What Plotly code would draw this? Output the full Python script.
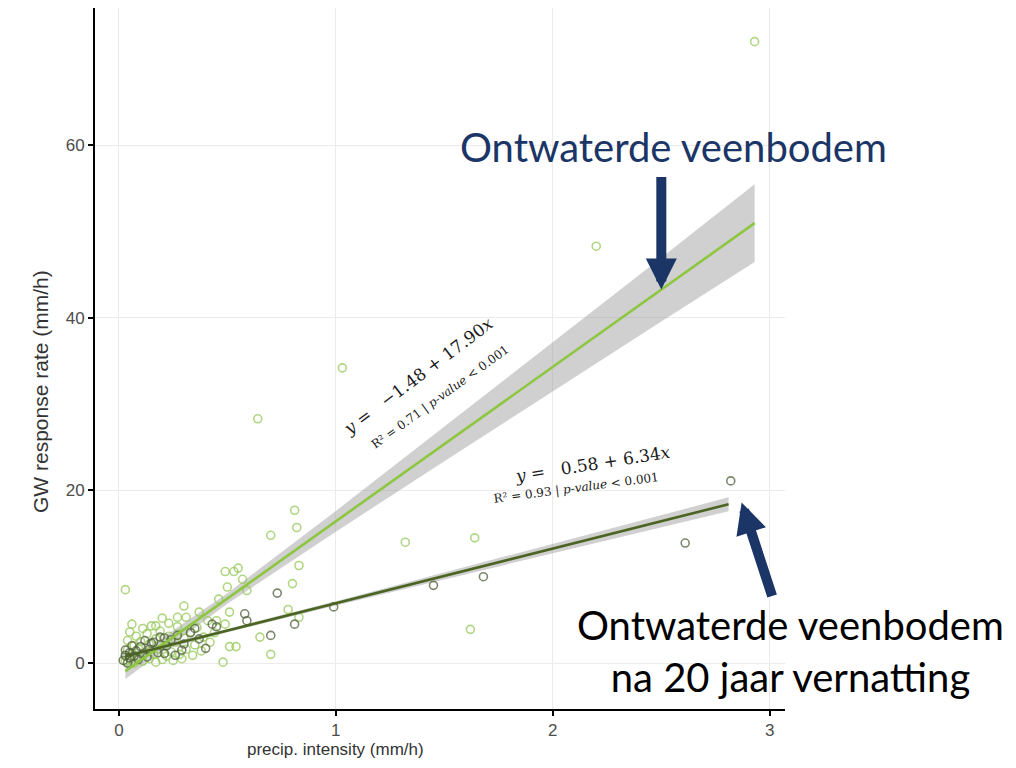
import plotly.graph_objects as go

# ---- observations: drained peat soil (light green) ----
drained_x = [2.93, 2.20, 1.03, 0.64, 1.64, 1.32, 1.62,
             0.81, 0.82, 0.70, 0.83, 0.80, 0.03, 0.49, 0.53, 0.55, 0.57, 0.50, 0.59,
             0.46, 0.30, 0.37, 0.51, 0.06, 0.49, 0.20, 0.23, 0.27, 0.31, 0.17, 0.41,
             0.45, 0.65, 0.51, 0.54, 0.70, 0.48, 0.83, 0.78,
             0.03, 0.03, 0.04, 0.04, 0.05, 0.05, 0.06, 0.07, 0.07, 0.08, 0.09, 0.09,
             0.10, 0.11, 0.11, 0.12, 0.13, 0.14, 0.14, 0.15, 0.16, 0.17, 0.17, 0.18,
             0.19, 0.20, 0.21, 0.22, 0.23, 0.24, 0.25, 0.26, 0.27, 0.28, 0.29, 0.30,
             0.31, 0.33, 0.34, 0.35, 0.36, 0.38, 0.39, 0.42, 0.44]
drained_y = [72.0, 48.3, 34.2, 28.3, 14.5, 14.0, 3.9,
             17.7, 15.7, 14.8, 11.3, 9.2, 8.5, 10.6, 10.6, 11.0, 9.7, 8.8, 8.4,
             7.4, 6.6, 5.9, 5.9, 4.5, 4.5, 5.2, 4.6, 5.3, 5.3, 4.3, 4.9,
             4.9, 3.0, 1.9, 1.9, 1.0, 0.1, 5.3, 6.2,
             0.2, 0.8, 1.5, 2.6, 0.4, 3.6, 1.1, 2.0, 0.0, 3.1, 0.6, 1.7,
             2.5, 4.0, 0.2, 1.2, 3.4, 0.5, 2.2, 4.3, 1.0, 0.1, 2.8, 1.6,
             3.7, 0.4, 2.0, 0.8, 3.1, 1.3, 0.3, 2.4, 4.2, 1.0, 0.5, 2.9,
             1.6, 3.6, 0.9, 2.1, 4.1, 1.4, 3.0, 2.4, 3.5]

# ---- observations: drained peat soil after 20 years of rewetting (dark green) ----
rewet_x = [2.82, 2.61, 1.45, 1.68, 0.99, 0.73, 0.58, 0.59, 0.70, 0.40, 0.43,
           0.45, 0.35, 0.21, 0.29, 0.15, 0.21, 0.26, 0.81,
           0.02, 0.03, 0.03, 0.04, 0.05, 0.05, 0.06, 0.07, 0.08, 0.09, 0.10,
           0.11, 0.12, 0.13, 0.14, 0.16, 0.18, 0.19, 0.22, 0.24, 0.27, 0.30,
           0.33, 0.37]
rewet_y = [21.1, 13.9, 9.0, 10.0, 6.5, 8.1, 5.7, 4.9, 3.2, 1.7, 4.5,
           4.2, 4.0, 2.9, 1.5, 2.3, 1.1, 0.9, 4.5,
           0.3, 0.9, 1.5, 0.0, 0.6, 1.2, 2.0, 0.8, 1.4, 0.4, 1.9,
           1.0, 2.6, 0.7, 1.6, 2.4, 1.2, 3.0, 2.0, 2.7, 3.2, 2.2,
           3.5, 2.8]

# ---- fitted regressions (intercept, slope) and fit extents ----
drained_fit = (-1.48, 17.90)
rewet_fit = (0.58, 6.34)
drained_fit_x = [0.03, 0.5, 1.0, 1.5, 2.0, 2.5, 2.93]
drained_band_hw = [0.9, 0.6, 1.2, 2.0, 2.8, 3.7, 4.5]
rewet_fit_x = [0.03, 0.5, 1.0, 1.5, 2.0, 2.5, 2.81]
rewet_band_hw = [0.35, 0.2, 0.25, 0.4, 0.55, 0.7, 0.8]

x_ticks = [0, 1, 2, 3]
y_ticks = [0, 20, 40, 60]

LIGHT = "#8dc63f"
LIGHT_PT = "rgba(150,200,90,0.75)"
DARK = "#4b6421"
DARK_PT = "rgba(80,95,60,0.75)"
BAND = "rgba(150,150,150,0.45)"
NAVY = "#1a3566"

# plot-area frame in pixels, used to place free text
L, R, T, B = 95, 785, 8, 709


def px(xp):
    return (xp - L) / (R - L)


def py(yp):
    return (B - yp) / (B - T)


def line(fit, xs):
    a, b = fit
    return [a + b * x for x in xs]


def label(xp, yp, text, **kw):
    d = dict(xref="paper", yref="paper", x=px(xp), y=py(yp), showarrow=False,
             xanchor="center", yanchor="middle", text=text)
    d.update(kw)
    return d


fig = go.Figure()

for fit, xs, hw in [(drained_fit, drained_fit_x, drained_band_hw),
                    (rewet_fit, rewet_fit_x, rewet_band_hw)]:
    yc = line(fit, xs)
    upper = [c + h for c, h in zip(yc, hw)]
    lower = [c - h for c, h in zip(yc, hw)]
    fig.add_trace(go.Scatter(x=xs + xs[::-1], y=upper + lower[::-1], fill="toself",
                             fillcolor=BAND, line=dict(width=0), mode="lines",
                             hoverinfo="skip", showlegend=False))

fig.add_trace(go.Scatter(x=drained_x, y=drained_y, mode="markers", showlegend=False,
                         marker=dict(symbol="circle-open", size=8, color=LIGHT_PT,
                                     line=dict(width=1.6, color=LIGHT_PT))))
fig.add_trace(go.Scatter(x=rewet_x, y=rewet_y, mode="markers", showlegend=False,
                         marker=dict(symbol="circle-open", size=8, color=DARK_PT,
                                     line=dict(width=1.6, color=DARK_PT))))

fig.add_trace(go.Scatter(x=[drained_fit_x[0], drained_fit_x[-1]],
                         y=line(drained_fit, [drained_fit_x[0], drained_fit_x[-1]]),
                         mode="lines", line=dict(color=LIGHT, width=2.6), showlegend=False))
fig.add_trace(go.Scatter(x=[rewet_fit_x[0], rewet_fit_x[-1]],
                         y=line(rewet_fit, [rewet_fit_x[0], rewet_fit_x[-1]]),
                         mode="lines", line=dict(color=DARK, width=2.6), showlegend=False))

NB = "\u00a0"
serif = "DejaVu Serif, Liberation Serif, serif"
ann = [
    label(418, 376, f"<i>y</i> ={NB*3}\u22121.48 + 17.90<i>x</i>", textangle=-37,
          font=dict(family=serif, size=17, color="#1a1a1a")),
    label(440, 397, "R\u00b2 = 0.71 | <i>p-value</i> < 0.001", textangle=-36,
          font=dict(family=serif, size=12, color="#1a1a1a")),
    label(592, 464, f"<i>y</i> ={NB*3}0.58 + 6.34<i>x</i>", textangle=-9,
          font=dict(family=serif, size=17, color="#1a1a1a")),
    label(576, 488, "R\u00b2 = 0.93 | <i>p-value</i> < 0.001", textangle=-7.5,
          font=dict(family=serif, size=12, color="#1a1a1a")),
]

big = "Lato, Open Sans, sans-serif"
ann.append(label(673, 147, "Ontwaterde veenbodem",
                 font=dict(family=big, size=40, color=NAVY)))
ann.append(label(790, 651, "Ontwaterde veenbodem<br>na 20 jaar vernatting",
                 font=dict(family=big, size=40, color="#000")))

# arrows pointing at the two fitted lines
ann.append(dict(x=2.5, y=drained_fit[0] + drained_fit[1] * 2.5, xref="x", yref="y",
                ax=0, ay=-114, showarrow=True, arrowhead=2, arrowsize=0.62,
                arrowwidth=10, arrowcolor=NAVY, text=""))
ann.append(dict(x=2.87, y=18.6, xref="x", yref="y",
                ax=31, ay=95, showarrow=True, arrowhead=2, arrowsize=0.62,
                arrowwidth=10, arrowcolor=NAVY, text=""))

sans = "Liberation Sans, Arial, sans-serif"
ann.append(label(335, 749, "precip. intensity (mm/h)",
                 font=dict(family=sans, size=17, color="#333")))
ann.append(label(40, 392, "GW response rate (mm/h)", textangle=-90,
                 font=dict(family="Liberation Sans Narrow, Liberation Sans, Arial, sans-serif",
                           size=21, color="#333")))

axis_common = dict(showline=True, linecolor="black", linewidth=2,
                   ticks="outside", ticklen=5, tickwidth=1.5, tickcolor="black",
                   showgrid=True, gridcolor="#ebebeb", gridwidth=1.2, zeroline=False,
                   tickfont=dict(family=sans, size=17, color="#4d4d4d"))

fig.update_layout(
    width=1016, height=768,
    margin=dict(l=L, r=1016 - R, t=T, b=768 - B),
    paper_bgcolor="white", plot_bgcolor="white",
    xaxis=dict(range=[-0.11, 3.07], tickvals=x_ticks, **axis_common),
    yaxis=dict(range=[-5.33, 75.9], tickvals=y_ticks, **axis_common),
    annotations=ann,
)

fig.write_html("out.html")
